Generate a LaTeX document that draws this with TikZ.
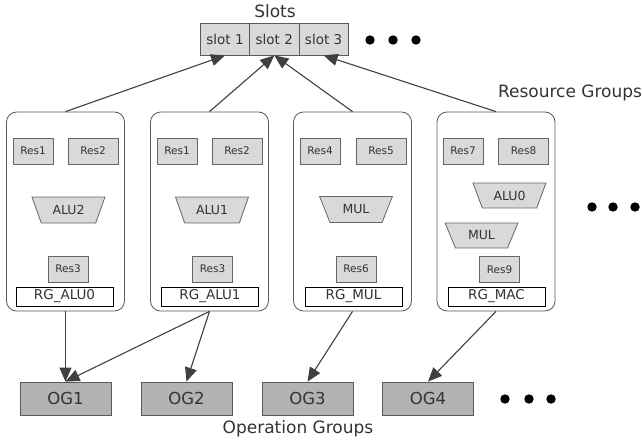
\documentclass[tikz,border=0pt]{standalone}
\usepackage{fontspec}
\setmainfont{DejaVu Sans}
\usetikzlibrary{arrows.meta,shapes.geometric}
\definecolor{resgray}{HTML}{D9D9D9}
\definecolor{oggray}{HTML}{B3B3B3}
\definecolor{edgegray}{HTML}{404040}
\begin{document}
\begin{tikzpicture}[x=1pt,y=-1pt]
  \tikzstyle{every node}=[text=black!80,inner sep=0pt]
  \tikzstyle{group}=[draw=black!65,line width=0.8pt,rounded corners=10pt,
  minimum width=118pt,minimum height=199pt]
  \tikzstyle{res}=[draw=black!60,line width=0.8pt,fill=resgray,
  minimum width=40pt,minimum height=26pt,font=\fontsize{10.5}{11}\selectfont]
  \tikzstyle{wideres}=[res,minimum width=50pt]
  \tikzstyle{unit}=[trapezium,shape border rotate=180,trapezium stretches=true,
  trapezium angle=60,draw=black!60,line width=0.8pt,fill=resgray,
  minimum width=73pt,minimum height=26pt,font=\fontsize{12.5}{13}\selectfont]
  \tikzstyle{rglabel}=[draw=black,line width=0.8pt,fill=white,
  minimum width=97pt,minimum height=19pt,font=\fontsize{13.5}{14}\selectfont]
  \tikzstyle{slot}=[draw=black!65,line width=0.8pt,fill=resgray,
  minimum width=49.3pt,minimum height=32pt,font=\fontsize{13.5}{14}\selectfont]
  \tikzstyle{opgroup}=[draw=black!65,line width=0.8pt,fill=oggray,
  minimum width=91pt,minimum height=33pt,font=\fontsize{16.5}{17}\selectfont]
  \tikzstyle{caption}=[font=\fontsize{17}{18}\selectfont]
  \tikzstyle{arr}=[draw=edgegray,line width=1.1pt,
  -{Triangle[length=14pt,width=12pt]}]

  \useasboundingbox (0,0) rectangle (642,447);

  % slots
  \node[caption] (slotstitle) at (275,11) {Slots};
  \node[slot] (slot1) at (225,39) {slot 1};
  \node[slot] (slot2) at (274.3,39) {slot 2};
  \node[slot] (slot3) at (323.6,39) {slot 3};
  \foreach \x in {370,393,416}
    \fill (\x,40) circle (4.7pt);

  % resource groups
  \node[caption] (rgtitle) at (570,93) {Resource Groups};
  \node[group] (rg1) at (65.5,211.5) {};
  \node[group] (rg2) at (209.5,211.5) {};
  \node[group] (rg3) at (352.5,211.5) {};
  \node[group] (rg4) at (496,211.5) {};
  \foreach \x in {592,613,635}
    \fill (\x,207) circle (4.7pt);

  \node[res] (r1a) at (33,151) {Res1};
  \node[wideres] (r2a) at (93,151) {Res2};
  \node[unit] (alu2) at (68.5,210) {ALU2};
  \node[res] (r3a) at (68,269) {Res3};
  \node[rglabel] (lalu0) at (64.5,296.5) {RG\_ALU0};

  \node[res] (r1b) at (177,151) {Res1};
  \node[wideres] (r2b) at (237,151) {Res2};
  \node[unit] (alu1) at (212,210) {ALU1};
  \node[res] (r3b) at (212.5,269) {Res3};
  \node[rglabel] (lalu1) at (210,296.5) {RG\_ALU1};

  \node[res] (r4) at (320,151) {Res4};
  \node[wideres] (r5) at (381,151) {Res5};
  \node[unit] (mula) at (356,209.5) {MUL};
  \node[res] (r6) at (356,269) {Res6};
  \node[rglabel] (lmul) at (353.5,296.5) {RG\_MUL};

  \node[res] (r7) at (463,151) {Res7};
  \node[wideres] (r8) at (523.5,151) {Res8};
  \node[unit,minimum height=25pt] (alu0) at (509.5,195.5) {ALU0};
  \node[unit,minimum height=25pt] (mulb) at (481.5,235.5) {MUL};
  \node[res] (r9) at (499.5,269.5) {Res9};
  \node[rglabel] (lmac) at (496.5,296.5) {RG\_MAC};

  % operation groups
  \node[opgroup] (og1) at (65.5,398.5) {OG1};
  \node[opgroup] (og2) at (186.5,398.5) {OG2};
  \node[opgroup] (og3) at (307.5,398.5) {OG3};
  \node[opgroup] (og4) at (428,398.5) {OG4};
  \foreach \x in {505,529,551}
    \fill (\x,399) circle (4.7pt);
  \node[caption] (ogtitle) at (298,429) {Operation Groups};

  % connections
  \draw[arr] (rg1.north) -- (slot1.south);
  \draw[arr] (rg2.north) -- (slot2.south);
  \draw[arr] (rg3.north) -- (slot2.south);
  \draw[arr] (rg4.north) -- (slot3.south);
  \draw[arr] (rg1.south) -- (og1.north);
  \draw[arr] (rg2.south) -- (og1.north);
  \draw[arr] (rg2.south) -- (og2.north);
  \draw[arr] (rg3.south) -- (og3.north);
  \draw[arr] (rg4.south) -- (og4.north);
\end{tikzpicture}
\end{document}
